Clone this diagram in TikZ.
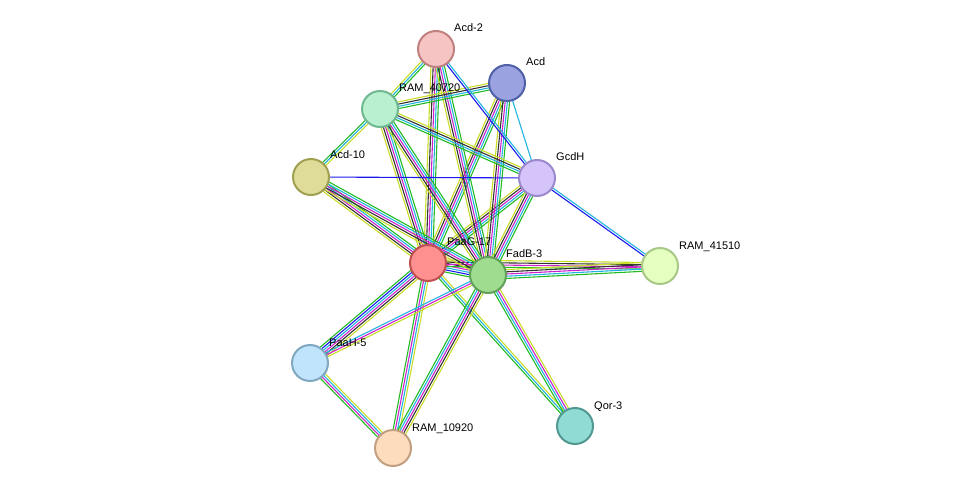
\documentclass[tikz,border=0pt]{standalone}
\usepackage{fontspec}
\setmainfont{Liberation Sans}
\usetikzlibrary{calc}

\definecolor{cNb}{HTML}{22BB22}
\definecolor{cCo}{HTML}{1A1AF0}
\definecolor{cEx}{HTML}{CC22CC}
\definecolor{cDb}{HTML}{22B4E0}
\definecolor{cTm}{HTML}{C8DC28}
\definecolor{cCx}{HTML}{333333}

\tikzset{
  prot/.style={circle,draw,line width=2pt,minimum size=36pt,inner sep=0pt},
  lbl/.style={font=\fontsize{11}{12}\selectfont,anchor=base west,inner sep=0pt},
  ln/.style={line width=1.1pt}
}

% parallel coloured lines between two proteins
\newcommand{\linkset}[3]{%
  \foreach \cc [count=\ii] in {#3} {\xdef\nlk{\ii}}%
  \foreach \cc [count=\ii] in {#3} {%
    \pgfmathsetmacro{\off}{(\ii-(\nlk+1)/2)*2.2}%
    \draw[ln,\cc] ($(#1)!\off pt!90:(#2)$) -- ($(#2)!\off pt!-90:(#1)$);
  }%
}

\begin{document}
\begin{tikzpicture}[x=1pt,y=-1pt]
\useasboundingbox (0,0) rectangle (976,494);

%%%%%%%%%%%%%%%%%%%%%%%%%%%%%%%% posiciones
\coordinate (acd2) at (436,49);
\coordinate (acd) at (507,83);
\coordinate (r40720) at (380,109);
\coordinate (acd10) at (311,177);
\coordinate (gcdh) at (537,178);
\coordinate (r41510) at (660,266);
\coordinate (paag) at (428,263);
\coordinate (fadb) at (488,275);
\coordinate (paah) at (310,363);
\coordinate (qor) at (575,426);
\coordinate (r10920) at (393,448);

%%%%%%%%%%%%%%%%%%%%%%%%%%%%%%%% enlaces
\linkset{paag}{acd2}{cNb,cDb,cEx,cCx,cTm}
\linkset{paag}{acd}{cNb,cDb,cEx,cCx,cTm}
\linkset{paag}{r40720}{cNb,cDb,cEx,cCx,cTm}
\linkset{paag}{acd10}{cNb,cDb,cEx,cCx,cTm}
\linkset{paag}{gcdh}{cNb,cDb,cEx,cCx,cTm}
\linkset{paag}{fadb}{cNb,cCo,cDb,cEx,cCx,cTm}
\linkset{paag}{r41510}{cNb,cEx,cCx,cTm}
\linkset{paag}{paah}{cNb,cCo,cDb,cEx,cCx,cTm}
\linkset{paag}{qor}{cNb,cDb,cTm}
\linkset{paag}{r10920}{cNb,cEx,cDb,cTm}
\linkset{fadb}{acd2}{cNb,cDb,cEx,cCx,cTm}
\linkset{fadb}{acd}{cNb,cDb,cEx,cCx,cTm}
\linkset{fadb}{r40720}{cNb,cDb,cEx,cCx,cTm}
\linkset{fadb}{acd10}{cNb,cDb,cEx,cCx,cTm}
\linkset{fadb}{gcdh}{cNb,cDb,cEx,cCx,cTm}
\linkset{fadb}{r41510}{cNb,cDb,cEx,cCx,cTm}
\linkset{fadb}{paah}{cDb,cEx,cTm}
\linkset{fadb}{qor}{cNb,cDb,cEx,cTm}
\linkset{fadb}{r10920}{cNb,cDb,cEx,cCx,cTm}
\linkset{r40720}{acd2}{cNb,cDb,cTm}
\linkset{r40720}{acd}{cNb,cDb,cCx,cTm}
\linkset{r40720}{gcdh}{cNb,cDb,cCx,cTm}
\linkset{r40720}{acd10}{cNb,cDb,cTm}
\linkset{acd2}{gcdh}{cCo,cDb}
\linkset{acd}{gcdh}{cDb}
\linkset{acd10}{gcdh}{cCo}
\linkset{gcdh}{r41510}{cCo,cDb}
\linkset{paah}{r10920}{cNb,cEx,cDb,cTm}

%%%%%%%%%%%%%%%%%%%%%%%%%%%%%%%% proteinas
\node[prot,fill={rgb,255:red,247;green,196;blue,196},draw={rgb,255:red,192;green,128;blue,128}] (nacd2) at (acd2) {};
\node[prot,fill={rgb,255:red,154;green,163;blue,224},draw={rgb,255:red,80;green,96;blue,168}] (nacd) at (acd) {};
\node[prot,fill={rgb,255:red,184;green,240;blue,208},draw={rgb,255:red,112;green,184;blue,144}] (nr40720) at (r40720) {};
\node[prot,fill={rgb,255:red,222;green,220;blue,152},draw={rgb,255:red,160;green,160;blue,80}] (nacd10) at (acd10) {};
\node[prot,fill={rgb,255:red,212;green,196;blue,250},draw={rgb,255:red,156;green,136;blue,204}] (ngcdh) at (gcdh) {};
\node[prot,fill={rgb,255:red,228;green,255;blue,192},draw={rgb,255:red,168;green,200;blue,136}] (nr41510) at (r41510) {};
\node[prot,fill={rgb,255:red,255;green,144;blue,144},draw={rgb,255:red,192;green,80;blue,80}] (npaag) at (paag) {};
\node[prot,fill={rgb,255:red,160;green,220;blue,144},draw={rgb,255:red,96;green,160;blue,88}] (nfadb) at (fadb) {};
\node[prot,fill={rgb,255:red,192;green,228;blue,252},draw={rgb,255:red,128;green,168;blue,192}] (npaah) at (paah) {};
\node[prot,fill={rgb,255:red,144;green,220;blue,212},draw={rgb,255:red,80;green,152;blue,144}] (nqor) at (qor) {};
\node[prot,fill={rgb,255:red,252;green,220;blue,188},draw={rgb,255:red,192;green,160;blue,128}] (nr10920) at (r10920) {};

%%%%%%%%%%%%%%%%%%%%%%%%%%%%%%%% etiquetas
\node[lbl] (tacd2) at ($(acd2)+(18,-17)$) {Acd-2};
\node[lbl] (tacd) at ($(acd)+(19,-17)$) {Acd};
\node[lbl] (tr40720) at ($(r40720)+(19,-17)$) {RAM\_40720};
\node[lbl] (tacd10) at ($(acd10)+(19,-18)$) {Acd-10};
\node[lbl] (tgcdh) at ($(gcdh)+(19,-17)$) {GcdH};
\node[lbl] (tr41510) at ($(r41510)+(19,-17)$) {RAM\_41510};
\node[lbl] (tpaag) at ($(paag)+(19,-17)$) {PaaG-17};
\node[lbl] (tfadb) at ($(fadb)+(18,-17)$) {FadB-3};
\node[lbl] (tpaah) at ($(paah)+(19,-17)$) {PaaH-5};
\node[lbl] (tqor) at ($(qor)+(19,-17)$) {Qor-3};
\node[lbl] (tr10920) at ($(r10920)+(19,-17)$) {RAM\_10920};
\end{tikzpicture}
\end{document}
